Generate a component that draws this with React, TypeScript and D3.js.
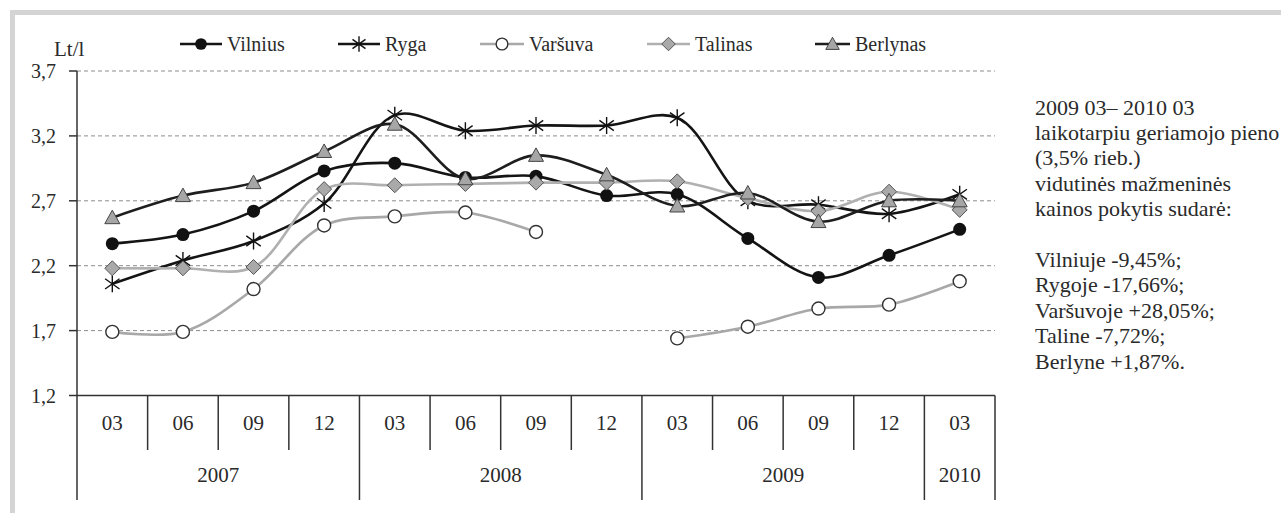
import React from "react";
import * as d3 from "d3";

// quarter labels on the x axis
const months = ["03", "06", "09", "12", "03", "06", "09", "12", "03", "06", "09", "12", "03"];
const yearLabels = ["2007", "2008", "2009", "2010"];
const yearSpans = [4, 4, 4, 1];
const yTicks = [1.2, 1.7, 2.2, 2.7, 3.2, 3.7];

// price, Lt/l
const vilnius = [2.37, 2.44, 2.62, 2.93, 2.99, 2.88, 2.89, 2.74, 2.75, 2.41, 2.11, 2.28, 2.48];
const ryga = [2.06, 2.24, 2.39, 2.68, 3.36, 3.24, 3.28, 3.28, 3.34, 2.7, 2.67, 2.6, 2.75];
const varsuva = [1.69, 1.69, 2.02, 2.51, 2.58, 2.61, 2.46, null, 1.64, 1.73, 1.87, 1.9, 2.08];
const talinas = [2.18, 2.18, 2.19, 2.79, 2.82, 2.83, 2.84, 2.84, 2.85, 2.72, 2.62, 2.77, 2.63];
const berlynas = [2.57, 2.74, 2.84, 3.08, 3.29, 2.87, 3.05, 2.9, 2.66, 2.76, 2.54, 2.7, 2.7];

const seriesNames = ["Vilnius", "Ryga", "Varšuva", "Talinas", "Berlynas"];

const noteLines = [
  "2009 03– 2010 03",
  "laikotarpiu geriamojo pieno",
  "(3,5% rieb.)",
  "vidutinės mažmeninės",
  "kainos pokytis sudarė:",
  "",
  "Vilniuje -9,45%;",
  "Rygoje -17,66%;",
  "Varšuvoje +28,05%;",
  "Taline -7,72%;",
  "Berlyne +1,87%.",
];

const FONT = '"Liberation Serif", "Times New Roman", serif';
const W = 1281;
const H = 513;
const left = 77;
const right = 995;
const top = 71;
const bottom = 395.5;
const TXT = "#2a2a2a";

type Style = { line: string; marker: string };
const styles: Style[] = [
  { line: "#141414", marker: "circle" },
  { line: "#141414", marker: "star" },
  { line: "#a8a8a8", marker: "open" },
  { line: "#b0b0b0", marker: "diamond" },
  { line: "#1e1e1e", marker: "triangle" },
];

function Marker({ kind, x, y, s = 1 }: { kind: string; x: number; y: number; s?: number }) {
  if (kind === "circle") return <circle cx={x} cy={y} r={6.5 * s} fill="#111" />;
  if (kind === "open")
    return <circle cx={x} cy={y} r={6.5 * s} fill="#fff" stroke="#333" strokeWidth={1.4} />;
  if (kind === "diamond") {
    const r = 7.5 * s;
    return (
      <path
        d={`M${x},${y - r}L${x + r},${y}L${x},${y + r}L${x - r},${y}Z`}
        fill="#a9a9a9"
        stroke="#555"
        strokeWidth={1}
      />
    );
  }
  if (kind === "triangle") {
    const r = 7.5 * s;
    return (
      <path
        d={`M${x},${y - r}L${x + r},${y + r * 0.8}L${x - r},${y + r * 0.8}Z`}
        fill="#a6a6a6"
        stroke="#444"
        strokeWidth={1}
      />
    );
  }
  const r = 8.5 * s;
  return (
    <path
      d={`M${x},${y - r}V${y + r}M${x - r * 0.85},${y - r * 0.6}L${x + r * 0.85},${y + r * 0.6}M${x - r * 0.85},${y + r * 0.6}L${x + r * 0.85},${y - r * 0.6}`}
      stroke="#111"
      strokeWidth={1.4}
      fill="none"
    />
  );
}

const tStyle = (size: number): React.CSSProperties => ({ fontFamily: FONT, fontSize: size });

export default function App() {
  const x = d3.scaleBand<number>().domain(d3.range(months.length)).range([left, right]).padding(0);
  const bw = x.bandwidth();
  const cx = (i: number) => (x(i) as number) + bw / 2;
  const y = d3.scaleLinear().domain([1.2, 3.7]).range([bottom, top]);

  const line = d3
    .line<number | null>()
    .defined((d) => d != null)
    .x((_, i) => cx(i))
    .y((d) => y(d as number))
    .curve(d3.curveCatmullRom.alpha(0.5));

  const data = [vilnius, ryga, varsuva, talinas, berlynas];

  // year group boundaries
  const yearStarts: number[] = [];
  let acc = 0;
  yearSpans.forEach((s) => {
    yearStarts.push(acc);
    acc += s;
  });

  const legendX = [180, 338, 480, 647, 815];
  const legendLen = [42, 42, 44, 43, 35];
  const legendY = 44;

  return (
    <svg width={W} height={H} style={{ position: "absolute", left: 0, top: 0, background: "#fff" }}>
      <rect x={12.5} y={12.5} width={1400} height={700} fill="none" stroke="#d4d4d4" strokeWidth={5} />

      {/* grid */}
      {yTicks.slice(1).map((t) => (
        <line key={t} x1={left} x2={right} y1={y(t)} y2={y(t)} stroke="#8c8c8c" strokeDasharray="4,3" strokeWidth={1} />
      ))}

      {/* y axis */}
      <line x1={left} x2={left} y1={top} y2={bottom} stroke="#333" strokeWidth={1.5} />
      {yTicks.map((t) => (
        <g key={"t" + t}>
          <line x1={left - 8} x2={left} y1={y(t)} y2={y(t)} stroke="#333" strokeWidth={1.5} />
          <text x={56} y={y(t)} textAnchor="end" dominantBaseline="central" style={tStyle(20)} fill={TXT}>
            {d3.format(".1f")(t).replace(".", ",")}
          </text>
        </g>
      ))}
      <text x={54} y={56} style={tStyle(21)} fill={TXT}>Lt/l</text>

      {/* x axis table */}
      <line x1={left} x2={right} y1={bottom} y2={bottom} stroke="#333" strokeWidth={1.5} />
      {months.map((m, i) => (
        <text key={"m" + i} x={cx(i)} y={423} textAnchor="middle" dominantBaseline="central" style={tStyle(21)} fill={TXT}>
          {m}
        </text>
      ))}
      {d3.range(months.length + 1).map((i) => {
        const xx = i < months.length ? (x(i) as number) : right;
        const isYear = i === months.length || yearStarts.includes(i);
        return (
          <line key={"s" + i} x1={xx} x2={xx} y1={bottom} y2={isYear ? 500 : 450} stroke="#333" strokeWidth={1.5} />
        );
      })}
      {yearLabels.map((yl, k) => {
        const a = x(yearStarts[k]) as number;
        const b = a + bw * yearSpans[k];
        return (
          <text key={yl} x={(a + b) / 2} y={475} textAnchor="middle" dominantBaseline="central" style={tStyle(21)} fill={TXT}>
            {yl}
          </text>
        );
      })}

      {/* series */}
      {data.map((vals, k) => (
        <g key={seriesNames[k]}>
          <path d={line(vals) || ""} fill="none" stroke={styles[k].line} strokeWidth={2.6} />
          {vals.map((v, i) => (v == null ? null : <Marker key={i} kind={styles[k].marker} x={cx(i)} y={y(v)} />))}
        </g>
      ))}

      {/* legend */}
      {seriesNames.map((n, k) => (
        <g key={"l" + n}>
          <line
            x1={legendX[k]}
            x2={legendX[k] + legendLen[k]}
            y1={legendY}
            y2={legendY}
            stroke={styles[k].line}
            strokeWidth={2.6}
          />
          <Marker kind={styles[k].marker} x={legendX[k] + legendLen[k] / 2} y={legendY} s={0.9} />
          <text x={legendX[k] + legendLen[k] + 5} y={legendY} dominantBaseline="central" style={tStyle(20)} fill={TXT}>
            {n}
          </text>
        </g>
      ))}

      {/* note */}
      <text style={tStyle(22)} fill={TXT}>
        {noteLines.map((t, i) => (
          <tspan key={i} x={1035} y={107 + i * 25.4} dominantBaseline="central">
            {t}
          </tspan>
        ))}
      </text>
    </svg>
  );
}
